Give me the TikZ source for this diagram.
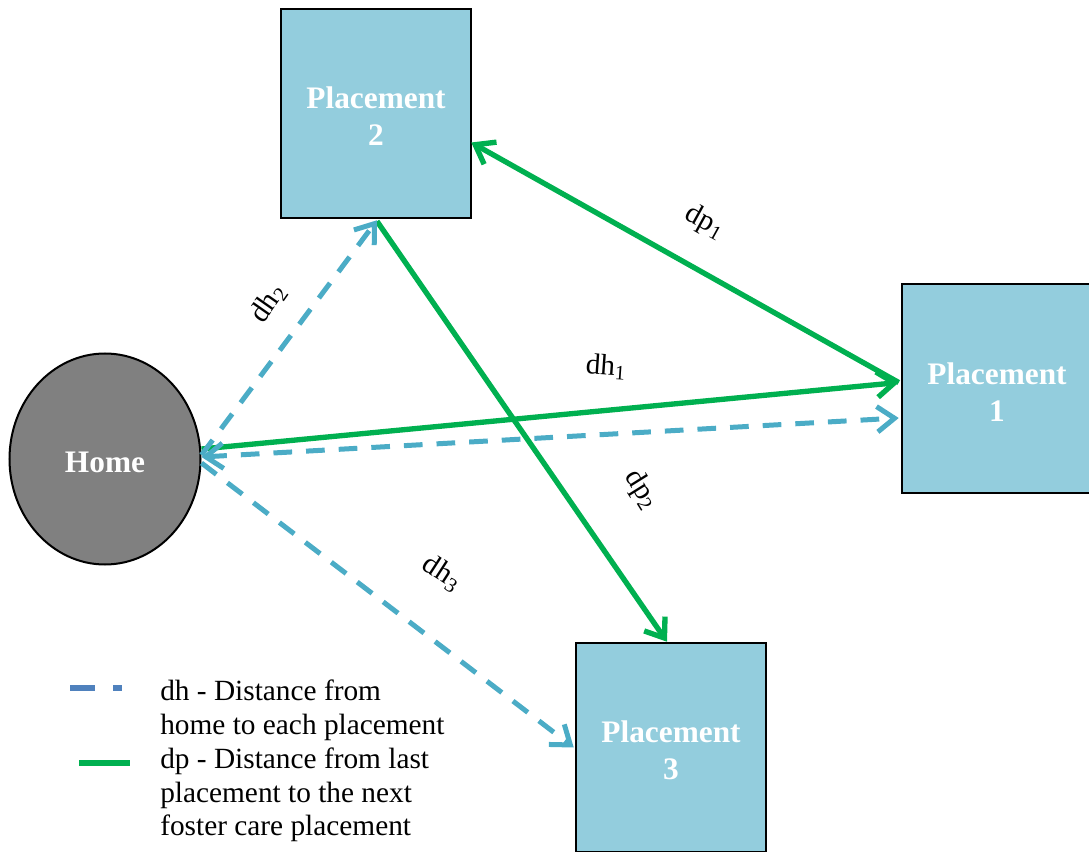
\documentclass[tikz,border=0pt]{standalone}
\usepackage{fontspec}
\setmainfont{Liberation Serif}
\usetikzlibrary{arrows.meta,shapes.geometric,calc}
\definecolor{boxblue}{HTML}{93CDDD}
\definecolor{homegray}{HTML}{808080}
\definecolor{dpgreen}{HTML}{00B050}
\definecolor{dhblue}{HTML}{4BACC6}
\definecolor{legblue}{HTML}{4F81BD}
\newcommand{\topstrut}{\rule{0pt}{21pt}}
\tikzset{
  place/.style={rectangle, draw=black, line width=1.9pt, fill=boxblue,
    minimum width=142.5pt, minimum height=156.75pt, text=white, align=center,
    font=\bfseries\fontsize{23.5}{27.75}\selectfont},
  homenode/.style={ellipse, draw=black, line width=1.5pt, fill=homegray,
    minimum width=143.25pt, minimum height=158.25pt, inner sep=0pt, text=white,
    text height=20.5pt,
    font=\bfseries\fontsize{23.5}{27.75}\selectfont},
  gline/.style={draw=dpgreen, line width=4pt},
  bline/.style={draw=dhblue, line width=3.75pt, dash pattern=on 14pt off 10.5pt},
  tipend/.style={-{Straight Barb[length=13pt,width=19pt]}},
  tipboth/.style={{Straight Barb[length=13pt,width=19pt]}-{Straight Barb[length=13pt,width=19pt]}},
  lab/.style={inner sep=0pt, font=\fontsize{22}{26}\selectfont},
  legtext/.style={inner sep=0pt, align=left, font=\fontsize{22}{25}\selectfont},
}
\begin{document}
\begin{tikzpicture}[x=0.75pt,y=-0.75pt]
\useasboundingbox (0,0) rectangle (1089,852);
% nodes
\node[place] (p2) at (376,113.5) {\topstrut Placement\\2};
\node[place] (p1) at (997,388.5) {\topstrut Placement\\1};
\node[place] (p3) at (671,747.5) {\topstrut Placement\\3};
\node[homenode] (home) at (105,459) {Home};
% green connectors
\draw[gline,tipend] ($(p1.west)+(-2,-6)$) -- ($(p2.east)+(-1,29)$);
\draw[gline,tipend] ($(home.east)+(0,-10)$) -- ($(p1.west)+(-2,-6)$);
\draw[gline,tipend] ($(p2.south)+(1,2)$) -- ($(p3.north)+(-4,0)$);
% blue dashed connectors
\draw[bline,tipend] ($(home.east)+(0,-4)$) -- ($(p2.south)+(1,1)$);
\draw[bline,tipboth] ($(home.east)+(0,-2)$) -- ($(p1.west)+(-2,29.5)$);
\draw[bline,tipend] ($(home.east)+(0,4)$) -- ($(p3.west)+(-1,0)$);
% labels
\node[lab, rotate=-29] (ldp1) at (705,222) {dp\textsubscript{1}};
\node[lab, rotate=55] (ldh2) at (268,303) {dh\textsubscript{2}};
\node[lab, rotate=-4] (ldh1) at (606,367) {dh\textsubscript{1}};
\node[lab, rotate=-58] (ldp2) at (641,490) {dp\textsubscript{2}};
\node[lab, rotate=-33] (ldh3) at (442,573) {dh\textsubscript{3}};
% legend
\coordinate (l1a) at (70,688);
\coordinate (l1b) at (122,688);
\draw[draw=legblue, line width=5pt, dash pattern=on 18.75pt off 13.5pt on 6.75pt off 50pt] (l1a) -- (l1b);
\coordinate (l2a) at (79,763);
\coordinate (l2b) at (130,763);
\draw[draw=dpgreen, line width=4.5pt] (l2a) -- (l2b);
\node[legtext, anchor=north west] (t1) at (160,680) {dh - Distance from\\home to each placement};
\node[legtext, anchor=north west] (t2) at (160,748) {dp - Distance from last\\placement to the next\\foster care placement};
\end{tikzpicture}
\end{document}
